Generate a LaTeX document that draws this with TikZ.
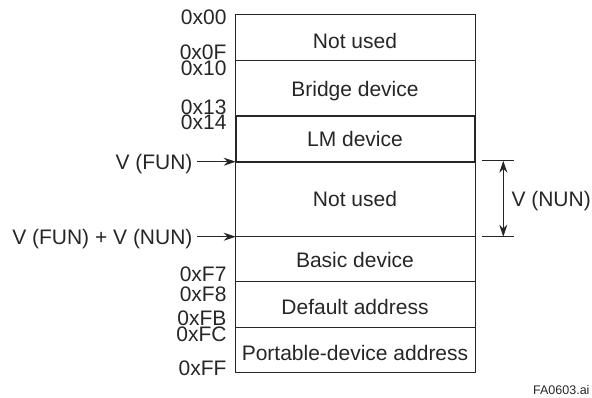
\documentclass[tikz,border=0pt]{standalone}
\usepackage{fontspec}
\setmainfont{Liberation Sans}
\usetikzlibrary{arrows.meta}

\begin{document}
\begin{tikzpicture}[x=1pt, y=-1pt, line width=1pt, color=black!85,
  font=\fontsize{21}{25}\selectfont,
  addr/.style={anchor=east, inner sep=0pt, text height=15pt, text depth=0pt},
  field/.style={inner sep=0pt, text height=15pt, text depth=0pt},
  arr/.style={-{Stealth[length=12pt, width=8pt]}, line width=1pt},
  dim/.style={{Stealth[length=12pt, width=8pt]}-{Stealth[length=12pt, width=8pt]}, line width=1pt}]
\useasboundingbox (0,0) rectangle (592,398);
% ---- the memory map
\draw (235.7,15) rectangle (475,372.7);
\draw (235.7,61) -- (475,61);
\draw (235.7,237) -- (475,237);
\draw (235.7,282) -- (475,282);
\draw (235.7,327.5) -- (475,327.5);
\draw[line width=2.2pt] (235.7,115.7) rectangle (475,161.7);
\node[field] (nu1) at (355,40.7) {Not used};
\node[field] (bridge) at (355,89) {Bridge device};
\node[field] (lm) at (355,139.5) {LM device};
\node[field] (nu2) at (355,199.5) {Not used};
\node[field] (basic) at (355,260) {Basic device};
\node[field] (default) at (355,307) {Default address};
\node[field] (portable) at (355,352.5) {Portable-device address};
% ---- addresses on the left
\node[addr] (a00) at (227,17) {0x00};
\node[addr] (a0F) at (227,52.5) {0x0F};
\node[addr] (a10) at (227,68) {0x10};
\node[addr] (a13) at (227,107.5) {0x13};
\node[addr] (a14) at (227,121.7) {0x14};
\node[addr] (aF7) at (227,274) {0xF7};
\node[addr] (aF8) at (227,294) {0xF8};
\node[addr] (aFB) at (227,317.7) {0xFB};
\node[addr] (aFC) at (227,334) {0xFC};
\node[addr] (aFF) at (227,368) {0xFF};
% ---- variable boundaries
\node[addr] (vfun) at (193,161.7) {V (FUN)};
\node[addr] (vsum) at (193,236.7) {V (FUN) + V (NUN)};
\coordinate (fun) at (235.7,161.7);
\coordinate (sum) at (235.7,236.7);
\draw[arr] ([xshift=4pt]vfun.east) -- (fun);
\draw[arr] ([xshift=4pt]vsum.east) -- (sum);
% ---- size of the unused range
\coordinate (dtop) at (503.3,160.7);
\coordinate (dbot) at (503.3,236.7);
\draw (481.7,160.7) -- (514,160.7);
\draw (481.7,236.7) -- (514,236.7);
\draw[dim] (dtop) -- (dbot);
\node[field, anchor=west] (vnun) at (511,199.5) {V (NUN)};
\node[field, anchor=east, font=\fontsize{12.5}{14}\selectfont, text height=9pt] (fig) at (590,390) {FA0603.ai};
\end{tikzpicture}
\end{document}
